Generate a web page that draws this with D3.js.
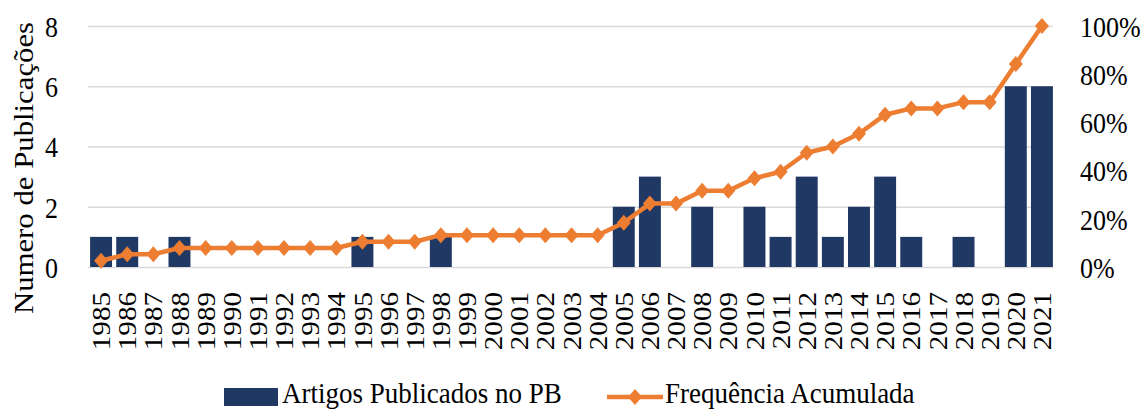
<!DOCTYPE html>
<html>
<head>
<meta charset="utf-8">
<script src="https://cdn.jsdelivr.net/npm/d3@7"></script>
<style>
  html, body { margin: 0; padding: 0; background: #fff; }
  text { font-family: "Liberation Serif", "Times New Roman", serif; fill: #000; }
</style>
</head>
<body>
<svg id="chart" width="1144" height="410"></svg>
<script>
const years = ["1985","1986","1987","1988","1989","1990","1991","1992","1993","1994","1995","1996","1997","1998","1999","2000","2001","2002","2003","2004","2005","2006","2007","2008","2009","2010","2011","2012","2013","2014","2015","2016","2017","2018","2019","2020","2021"];
const artigos = [1,1,0,1,0,0,0,0,0,0,1,0,0,1,0,0,0,0,0,0,2,3,0,2,0,2,1,3,1,2,3,1,0,1,0,6,6];
const frequencia = [2.6,5.3,5.3,7.9,7.9,7.9,7.9,7.9,7.9,7.9,10.5,10.5,10.5,13.2,13.2,13.2,13.2,13.2,13.2,13.2,18.4,26.3,26.3,31.6,31.6,36.8,39.5,47.4,50.0,55.3,63.2,65.8,65.8,68.4,68.4,84.2,100];
const leftTicks = [0,2,4,6,8];
const rightTicks = [0,20,40,60,80,100];
const seriesNames = ["Artigos Publicados no PB", "Frequência Acumulada"];

const barColor = "#203864";
const lineColor = "#ED7D31";
const gridColor = "#d9d9d9";

const svg = d3.select("#chart");
const plotLeft = 88, plotRight = 1055, plotTop = 26, plotBottom = 267;

const x = d3.scaleBand().domain(years).range([plotLeft, plotRight]).paddingInner(0.16).paddingOuter(0.08);
const yL = d3.scaleLinear().domain([0, 8]).range([plotBottom, plotTop]);
const yR = d3.scaleLinear().domain([0, 100]).range([plotBottom, plotTop]);

// gridlines
svg.append("g")
  .attr("transform", `translate(${plotLeft},0)`)
  .call(d3.axisLeft(yL).tickValues(leftTicks).tickSize(-(plotRight - plotLeft - 2)).tickFormat(""))
  .call(g => g.select(".domain").remove())
  .call(g => g.selectAll("line").attr("stroke", gridColor).attr("stroke-width", 1.5));

// bars
svg.append("g").selectAll("rect")
  .data(years.map((yr, i) => ({yr, v: artigos[i]})).filter(d => d.v > 0))
  .join("rect")
  .attr("x", d => x(d.yr))
  .attr("width", x.bandwidth())
  .attr("y", d => yL(d.v))
  .attr("height", d => yL(0) - yL(d.v))
  .attr("fill", barColor);

// line
const pts = years.map((yr, i) => ({yr, v: frequencia[i]}));
svg.append("path")
  .datum(pts)
  .attr("fill", "none")
  .attr("stroke", lineColor)
  .attr("stroke-width", 4.5)
  .attr("stroke-linejoin", "round")
  .attr("d", d3.line().x(d => x(d.yr) + x.bandwidth() / 2).y(d => yR(d.v)));

const diamond = "M0,-8L7,0L0,8L-7,0Z";
svg.append("g").selectAll("path")
  .data(pts)
  .join("path")
  .attr("d", diamond)
  .attr("fill", lineColor)
  .attr("transform", d => `translate(${x(d.yr) + x.bandwidth() / 2},${yR(d.v)})`);

// left axis
svg.append("g")
  .attr("transform", `translate(${plotLeft},0)`)
  .call(d3.axisLeft(yL).tickValues(leftTicks).tickSize(0).tickPadding(30))
  .call(g => g.select(".domain").remove())
  .call(g => g.selectAll("text")
    .attr("font-size", 26)
    .attr("font-family", "Liberation Serif")
    .attr("fill", "#000")
    .attr("dy", "0.35em")
    .attr("transform", "scale(1,1.14)"));

// right axis
svg.append("g")
  .attr("transform", `translate(${plotRight},0)`)
  .call(d3.axisRight(yR).tickValues(rightTicks).tickSize(0).tickPadding(25).tickFormat(d => d + "%"))
  .call(g => g.select(".domain").remove())
  .call(g => g.selectAll("text")
    .attr("font-size", 26)
    .attr("font-family", "Liberation Serif")
    .attr("fill", "#000")
    .attr("dy", "0.35em")
    .attr("transform", "scale(1,1.14)"));

// x axis
svg.append("g")
  .attr("transform", `translate(0,${plotBottom})`)
  .call(d3.axisBottom(x).tickSize(0))
  .call(g => g.select(".domain").remove())
  .call(g => g.selectAll("text")
    .attr("font-size", 26)
    .attr("font-family", "Liberation Serif")
    .attr("fill", "#000")
    .attr("x", 0).attr("y", 0)
    .attr("dy", "0.35em")
    .attr("text-anchor", "end")
    .attr("transform", "translate(0,25) rotate(-90) scale(1.12,1)"));

// y title
svg.append("text")
  .attr("transform", "translate(33,168) rotate(-90) scale(1.14,1)")
  .attr("text-anchor", "middle")
  .attr("font-size", 27)
  .text("Numero de Publicações");

// legend
const lg = svg.append("g");
lg.append("rect").attr("x", 224).attr("y", 388).attr("width", 54).attr("height", 18).attr("fill", barColor);
lg.append("text").attr("transform", "translate(282,403) scale(1,1.1)").attr("font-size", 27).text(seriesNames[0]);
lg.append("line").attr("x1", 607).attr("x2", 663).attr("y1", 397).attr("y2", 397).attr("stroke", lineColor).attr("stroke-width", 4.5);
lg.append("path").attr("d", diamond).attr("fill", lineColor).attr("transform", "translate(635,397)");
lg.append("text").attr("transform", "translate(665,403) scale(1,1.1)").attr("font-size", 27).text(seriesNames[1]);
</script>
</body>
</html>
